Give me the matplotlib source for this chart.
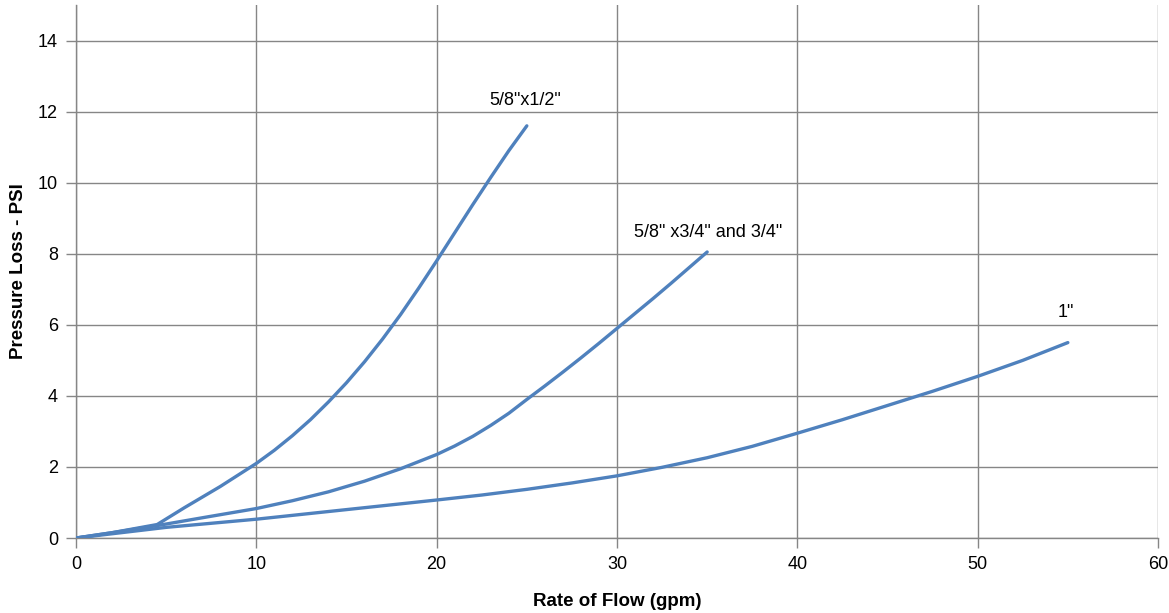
import matplotlib.pyplot as plt

# data
x_half = [0, 2, 4.5, 6, 8, 10, 11, 12, 13, 14, 15, 16, 17, 18, 19, 20, 21, 22, 23, 24, 25]
y_half = [0, 0.15, 0.38, 0.85, 1.45, 2.1, 2.47, 2.88, 3.33, 3.83, 4.37, 4.96, 5.6, 6.29,
          7.03, 7.8, 8.59, 9.38, 10.15, 10.9, 11.6]

x_3q = [0, 2, 4.5, 7, 10, 12, 14, 16, 18, 20, 21, 22, 23, 24, 25, 26, 27, 28, 29, 30,
        31, 32, 33, 34, 35]
y_3q = [0, 0.15, 0.35, 0.57, 0.83, 1.05, 1.3, 1.6, 1.95, 2.35, 2.59, 2.86, 3.17, 3.51,
        3.9, 4.28, 4.67, 5.07, 5.48, 5.9, 6.32, 6.74, 7.17, 7.61, 8.05]

x_one = [0, 2.5, 5, 10, 15, 20, 22.5, 25, 27.5, 30, 32.5, 35, 37.5, 40, 42.5, 45, 47.5,
         50, 52.5, 55]
y_one = [0, 0.15, 0.3, 0.53, 0.8, 1.07, 1.21, 1.37, 1.55, 1.75, 1.99, 2.26, 2.58, 2.95,
         3.33, 3.73, 4.13, 4.55, 5.0, 5.5]

labels = ['5/8"x1/2"', '5/8" x3/4" and 3/4"', '1"']
label_pos = [(24.9, 12.3), (35.05, 8.6), (54.9, 6.35)]

plt.rcParams['font.family'] = ['Liberation Sans', 'DejaVu Sans']
line_color = '#4F81BD'
grid_color = '#868686'

fig = plt.figure(figsize=(11.69, 6.13), dpi=100)
ax = fig.add_axes([0.065, 0.1223, 0.9256, 0.8695])

for xs, ys in [(x_half, y_half), (x_3q, y_3q), (x_one, y_one)]:
    ax.plot(xs, ys, color=line_color, lw=2.4, solid_capstyle='round',
            solid_joinstyle='round', zorder=3)

for txt, (tx, ty) in zip(labels, label_pos):
    ax.text(tx, ty, txt, ha='center', va='center', fontsize=13, color='#000000')

ax.set_xlim(0, 60)
ax.set_ylim(0, 15)
ax.set_xticks(range(0, 61, 10))
ax.set_yticks(range(0, 15, 2))
ax.grid(True, color=grid_color, lw=1.0)
ax.set_axisbelow(True)
for side in ['top', 'right']:
    ax.spines[side].set_visible(False)
for side in ['left', 'bottom']:
    ax.spines[side].set_color(grid_color)
    ax.spines[side].set_linewidth(1.0)
ax.tick_params(direction='out', length=7, color=grid_color, width=1.0,
               labelsize=13, pad=6)

ax.set_xlabel('Rate of Flow (gpm)', fontsize=13.5, fontweight='bold', labelpad=14)
ax.set_ylabel('Pressure Loss - PSI', fontsize=13.5, fontweight='bold', labelpad=8)

fig.savefig('out.png', dpi=100)
